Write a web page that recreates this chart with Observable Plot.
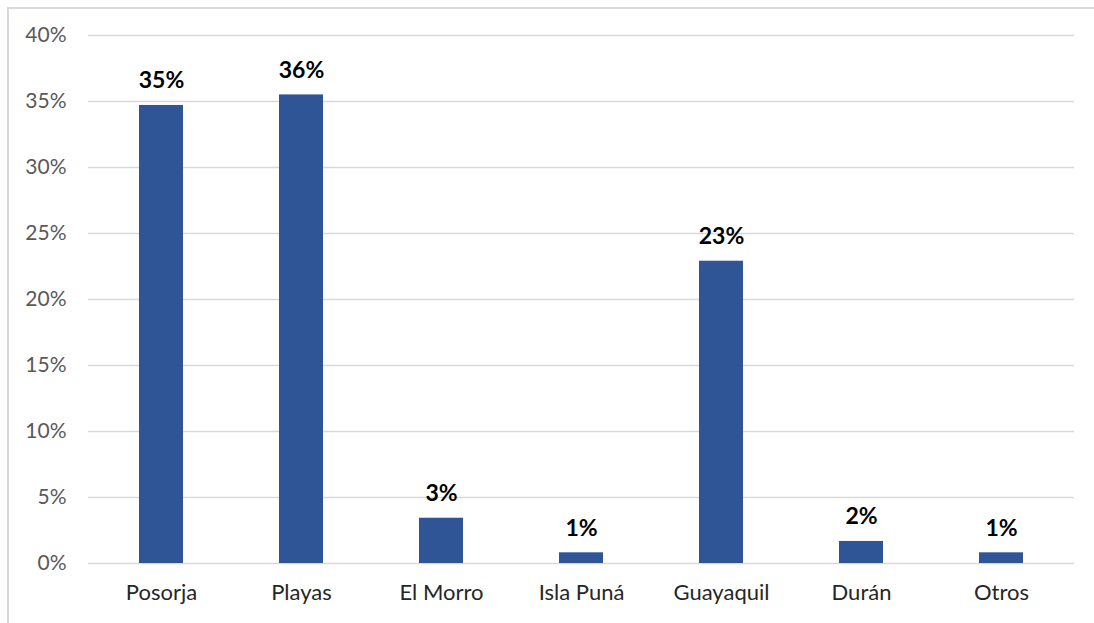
<!DOCTYPE html>
<html>
<head>
<meta charset="utf-8">
<script src="https://cdn.jsdelivr.net/npm/d3@7"></script>
<script src="https://cdn.jsdelivr.net/npm/@observablehq/plot@0.6"></script>
<style>
  html, body { margin: 0; padding: 0; background: #fff; overflow: hidden; }
  #wrap { position: relative; width: 1094px; height: 623px; }
  #frame { position: absolute; left: 7px; top: 7px; width: 1200px; height: 700px; border: 2px solid #d9d9d9; box-sizing: border-box; }
  #chart { position: absolute; left: 0; top: 0; }
</style>
</head>
<body>
<div id="wrap"><div id="frame"></div><div id="chart"></div></div>
<script>
const categories = ["Posorja", "Playas", "El Morro", "Isla Puná", "Guayaquil", "Durán", "Otros"];
const values = [0.347, 0.355, 0.0343, 0.0081, 0.229, 0.0167, 0.0081];
const yTicks = [0, 0.05, 0.10, 0.15, 0.20, 0.25, 0.30, 0.35, 0.40];

const data = categories.map((c, i) => ({category: c, value: values[i]}));
const fmt = d3.format(".0%");

const chart = Plot.plot({
  width: 1094,
  height: 623,
  marginLeft: 88,
  marginRight: 20,
  marginTop: 35,
  marginBottom: 60,
  style: {fontFamily: "Lato, 'Open Sans', sans-serif", background: "transparent"},
  x: {domain: categories, paddingInner: 0.683, paddingOuter: 0.3415, label: null},
  y: {domain: [0, 0.4], label: null},
  marks: [
    Plot.gridY(yTicks, {stroke: "#d9d9d9", strokeOpacity: 1, strokeWidth: 1.5}),
    Plot.barY(data, {x: "category", y: "value", fill: "#2f5597"}),
    Plot.text(data, {x: "category", y: "value", text: d => fmt(d.value), lineAnchor: "bottom", dy: -17,
      fontSize: 23, fontWeight: "bold", fill: "#000"}),
    Plot.axisY(yTicks, {tickSize: 0, tickPadding: 22, tickFormat: fmt, fontSize: 21, fill: "#595959", label: null}),
    Plot.axisX({tickSize: 0, tickPadding: 21, fontSize: 22, fill: "#262626", label: null})
  ]
});
document.getElementById("chart").appendChild(chart);
</script>
</body>
</html>
